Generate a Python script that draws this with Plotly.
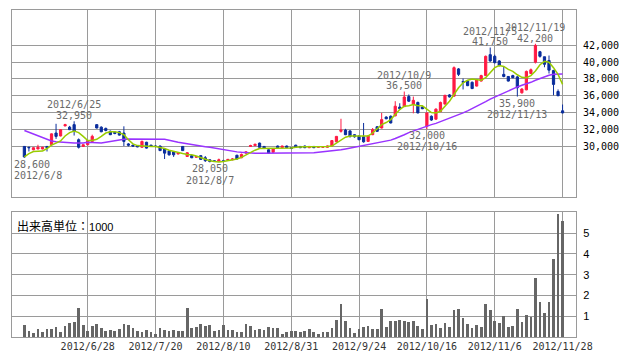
import pandas as pd
import plotly.graph_objects as go

# ---------------- data ----------------
holidays = ["2012-07-16", "2012-09-17", "2012-10-08", "2012-11-23"]
trading_days = [d for d in pd.bdate_range("2012-06-08", "2012-11-28")
                if d.strftime("%Y-%m-%d") not in holidays]
dates = [f"{d.year}/{d.month}/{d.day}" for d in trading_days]

open_ = [
    29950, 29850, 29550, 29650, 29650, 29950, 30150, 31550, 31200, 32400,
    32250, 32550, 30750, 29950, 30150, 30550, 32550, 32250, 32100, 31750,
    31650, 31700, 31550, 30250, 30100, 30050, 29850, 30450, 30100, 30000,
    30000, 29650, 29400, 29300, 29050, 29950, 28750, 28850, 28650, 28850,
    28600, 28350, 28250, 28200, 28250, 28300, 28350, 28900, 28600, 29150,
    29950, 30050, 30350, 29950, 29550, 29250, 30000, 29800, 30000, 29800,
    30100, 29950, 30000, 29800, 29950, 29850, 29850, 29850, 30000, 30500,
    31750, 31900, 31800, 31350, 31200, 31100, 30550, 31350, 32300, 32150,
    33450, 33550, 33600, 34650, 34700, 35900, 34950, 35200, 34650, 32350,
    33550, 33200, 34100, 35000, 36100, 35950, 39200, 37700, 37750, 37600,
    37150, 37750, 38400, 40900, 40700, 40150, 38550, 38300, 38400, 38250,
    36350, 36700, 38650, 40000, 41250, 40650, 40200, 39000, 36500, 34200]

high = [
    30000, 29900, 29850, 30150, 29900, 30000, 31500, 32650, 32000, 32650,
    32400, 32950, 30900, 30200, 30700, 31350, 32600, 32350, 32200, 31850,
    31750, 31800, 32350, 30350, 30150, 30100, 30650, 30500, 30150, 30100,
    30050, 29700, 29450, 29350, 29250, 30000, 29250, 28900, 28800, 28900,
    28800, 28400, 28300, 28500, 28350, 28450, 28550, 28950, 29100, 29400,
    30150, 30300, 30400, 30000, 29600, 29700, 30050, 30050, 30050, 29850,
    30150, 30000, 30050, 30000, 30000, 29950, 29950, 30050, 30700, 31200,
    33250, 32050, 31900, 31400, 31300, 32750, 31250, 32150, 32350, 33950,
    33550, 33650, 35350, 35100, 36500, 36150, 35900, 35300, 34750, 34000,
    33650, 34500, 35300, 36100, 36200, 39500, 39300, 38050, 37800, 37700,
    38000, 38500, 40800, 41750, 40900, 40250, 39500, 38350, 38500, 38350,
    36900, 39000, 39250, 42200, 41350, 40650, 40800, 39100, 36750, 34950]

low = [
    28600, 29350, 29500, 29600, 29600, 29350, 30100, 30850, 31150, 32350,
    31900, 31250, 29700, 29900, 30100, 30500, 32100, 31650, 31750, 31300,
    31400, 31250, 30000, 29950, 29900, 29850, 29800, 29700, 29900, 29850,
    29400, 28450, 28850, 28700, 29000, 29400, 28700, 28550, 28600, 28350,
    28100, 28050, 28100, 28150, 28100, 28250, 28300, 28400, 28550, 29100,
    29900, 30000, 29800, 29650, 29100, 29200, 29750, 29750, 29750, 29650,
    29800, 29750, 29750, 29750, 29750, 29800, 29800, 29800, 29950, 30450,
    31600, 31300, 31000, 31000, 30700, 30400, 30500, 31300, 31700, 32100,
    33200, 32700, 33550, 34350, 34650, 35250, 33900, 33900, 34400, 32000,
    33000, 33150, 34050, 34950, 35800, 35900, 38350, 36750, 37150, 36800,
    37100, 37700, 38350, 40050, 39850, 39500, 38200, 37700, 38100, 35900,
    36250, 36650, 38600, 39850, 40550, 39400, 38650, 36050, 35950, 33900]

close = [
    28700, 29800, 29800, 29850, 29850, 29800, 31450, 31150, 31950, 32550,
    31950, 31750, 29850, 30150, 30650, 31150, 32150, 31700, 31850, 31350,
    31500, 31300, 30550, 30100, 30000, 29900, 30550, 29750, 30000, 29950,
    29450, 29150, 28950, 28950, 29200, 29450, 29200, 28600, 28750, 28400,
    28250, 28150, 28150, 28350, 28150, 28400, 28450, 28450, 29000, 29300,
    30050, 30200, 29850, 29700, 29150, 29650, 29800, 30000, 29800, 29700,
    29850, 29800, 29800, 29950, 29800, 29900, 29900, 30000, 30650, 31150,
    31900, 31350, 31150, 31100, 30750, 30500, 31200, 31950, 31750, 33150,
    33250, 32750, 34750, 34450, 35850, 35350, 35450, 33950, 34450, 33950,
    33100, 34400, 35200, 36050, 35850, 39350, 38550, 37600, 37200, 36850,
    37900, 38400, 40700, 40150, 39950, 39600, 38300, 37750, 38150, 36950,
    36800, 38900, 39100, 42000, 40700, 39750, 39050, 37350, 36000, 33950]

ma_short = [
    28700, 29100, 29350, 29400, 29400, 29700, 30100, 30350, 30600, 31200,
    31600, 31800, 31600, 31150, 30650, 30650, 30800, 31150, 31550, 31700,
    31700, 31600, 31350, 30750, 30250, 30050, 30000, 30000, 29950, 29950,
    29850, 29700, 29500, 29350, 29200, 29100, 29000, 28950, 28800, 28600,
    28400, 28250, 28150, 28100, 28150, 28250, 28350, 28450, 28650, 28950,
    29200, 29500, 29700, 29700, 29700, 29700, 29700, 29700, 29700, 29750,
    29850, 29900, 29900, 29900, 29900, 29900, 29950, 29950, 30000, 30350,
    30750, 31050, 31200, 31200, 31150, 31150, 31200, 31550, 32000, 32550,
    32800, 33150, 33750, 34350, 34750, 34800, 34950, 34800, 34800, 34350,
    34000, 33950, 34150, 34750, 35350, 36150, 36950, 37550, 37850, 38000,
    37950, 37850, 38150, 38750, 39350, 39600, 39500, 39150, 38900, 38500,
    38200, 38150, 38400, 38950, 39700, 40100, 40000, 39350, 38550, 37350]

ma_long = [
    31850, 31650, 31450, 31250, 31050, 30800, 30600, 30500, 30450, 30400,
    30350, 30350, 30350, 30350, 30450, 30450, 30400, 30350, 30450, 30550,
    30650, 30750, 30800, 30850, 30850, 30850, 30850, 30850, 30850, 30850,
    30850, 30800, 30700, 30550, 30450, 30350, 30250, 30150, 30050, 29950,
    29900, 29850, 29750, 29700, 29600, 29500, 29400, 29300, 29250, 29200,
    29150, 29150, 29150, 29150, 29150, 29150, 29150, 29150, 29150, 29200,
    29200, 29200, 29200, 29200, 29200, 29250, 29300, 29350, 29400, 29450,
    29550, 29650, 29750, 29850, 29950, 30050, 30150, 30250, 30350, 30500,
    30600, 30700, 30900, 31100, 31350, 31600, 31800, 32000, 32150, 32350,
    32550, 32700, 32900, 33100, 33300, 33500, 33700, 33950, 34200, 34450,
    34750, 35000, 35300, 35600, 35850, 36100, 36350, 36600, 36850, 37050,
    37250, 37400, 37600, 37850, 38050, 38250, 38450, 38550, 38600, 38600]

volume = [
    0.58, 0.29, 0.18, 0.37, 0.21, 0.38, 0.38, 0.48, 0.24, 0.53,
    0.67, 0.72, 1.39, 0.58, 0.29, 0.53, 0.62, 0.43, 0.29, 0.34,
    0.29, 0.38, 0.62, 0.58, 0.43, 0.29, 0.24, 0.34, 0.24, 0.14,
    0.43, 0.34, 0.29, 0.34, 0.29, 0.29, 1.39, 0.43, 0.48, 0.62,
    0.53, 0.58, 0.29, 0.34, 0.58, 0.34, 0.34, 0.24, 0.24, 0.62,
    0.53, 0.34, 0.38, 0.34, 0.48, 0.43, 0.43, 0.14, 0.24, 0.29,
    0.29, 0.24, 0.29, 0.38, 0.24, 0.14, 0.24, 0.24, 0.43, 0.82,
    1.58, 0.77, 0.43, 0.19, 0.38, 0.48, 0.53, 0.38, 0.38, 1.34,
    0.48, 0.77, 0.77, 0.82, 0.77, 0.72, 0.77, 0.53, 0.38, 1.82,
    0.58, 0.62, 0.43, 0.67, 0.48, 1.30, 1.34, 0.91, 0.62, 0.43,
    0.58, 0.48, 1.58, 1.30, 0.77, 0.67, 1.01, 0.48, 0.53, 1.34,
    0.72, 1.06, 0.96, 2.83, 1.68, 1.15, 1.68, 3.74, 5.90, 5.57]

tick_dates = ["2012/6/28", "2012/7/20", "2012/8/10", "2012/8/31",
              "2012/9/24", "2012/10/16", "2012/11/6", "2012/11/28"]
price_ticks = [30000, 32000, 34000, 36000, 38000, 40000, 42000]
volume_ticks = [1, 2, 3, 4, 5]

# (date, price, kind)
marks = [("2012/6/8", 28600, "low"), ("2012/6/25", 32950, "high"),
         ("2012/8/7", 28050, "low"), ("2012/10/9", 36500, "high"),
         ("2012/10/16", 32000, "low"), ("2012/11/5", 41750, "high"),
         ("2012/11/13", 35900, "low"), ("2012/11/19", 42200, "high")]

# ---------------- styling ----------------
RED = "#ff1a44"
BLUE = "#0a2d9c"
GREEN = "#99cc00"
PURPLE = "#9933ff"
GRID = "#9a9a9a"
MONO = "DejaVu Sans Mono"

idx = list(range(len(dates)))
tick_idx = [dates.index(d) for d in tick_dates]
xr = [-2.74, 121.97]

fig = go.Figure()
fig.add_trace(go.Candlestick(
    x=idx, open=open_, high=high, low=low, close=close,
    increasing=dict(line=dict(color=RED, width=1), fillcolor=RED),
    decreasing=dict(line=dict(color=BLUE, width=1), fillcolor=BLUE),
    whiskerwidth=0, xaxis="x", yaxis="y", hoverinfo="skip"))
fig.add_trace(go.Scatter(x=idx, y=ma_long, mode="lines",
                         line=dict(color=PURPLE, width=1.5),
                         xaxis="x", yaxis="y", hoverinfo="skip"))
fig.add_trace(go.Scatter(x=idx, y=ma_short, mode="lines",
                         line=dict(color=GREEN, width=1.5),
                         xaxis="x", yaxis="y", hoverinfo="skip"))
fig.add_trace(go.Bar(x=idx, y=volume, marker=dict(color="#666666", line=dict(width=0)),
                     width=0.6, xaxis="x2", yaxis="y2", hoverinfo="skip"))

annotations = []
for d, p, kind in marks:
    i = dates.index(d)
    sgn = 1 if kind == "high" else -1
    if i == 0:
        ax, anchor = xr[0], "left"
    else:
        ax, anchor = i, "center"
    annotations.append(dict(x=ax, y=p, xref="x", yref="y", text=f"{p:,}",
                            showarrow=False, xanchor=anchor, yanchor="middle",
                            yshift=sgn * (5.7 if kind == "high" else 6.6),
                            font=dict(family=MONO, size=10, color="#6a6a6a")))
    annotations.append(dict(x=ax, y=p, xref="x", yref="y", text=d,
                            showarrow=False, xanchor=anchor, yanchor="middle",
                            yshift=sgn * (16.4 if kind == "high" else 17.7),
                            font=dict(family=MONO, size=10, color="#6a6a6a")))
annotations.append(dict(
    x=0.005, y=0.372, xref="paper", yref="paper", xanchor="left", yanchor="top",
    showarrow=False,
    text="出来高単位：<span style='font-family:Liberation Sans;font-size:11px'>1000</span>",
    font=dict(family="Noto Sans CJK JP", size=12, color="#000000")))

axis_common = dict(showgrid=True, gridcolor=GRID, gridwidth=1, showline=True,
                   mirror=True, linecolor=GRID, linewidth=1, zeroline=False,
                   ticks="")

# the page body has an 8px margin, so the figure is sized/offset to compensate
fig.update_layout(
    width=630, height=354,
    margin=dict(l=4, r=62, t=2, b=25),
    paper_bgcolor="white", plot_bgcolor="white",
    showlegend=False,
    bargap=0,
    annotations=annotations,
    xaxis=dict(domain=[0, 1], range=xr, anchor="y", tickvals=tick_idx,
               showticklabels=False, rangeslider=dict(visible=False), **axis_common),
    yaxis=dict(domain=[0.429, 1], range=[23950, 46230], anchor="x", side="right",
               tickvals=price_ticks, ticktext=[f"{v:,}" for v in price_ticks],
               tickfont=dict(family=MONO, size=10, color="#000000"),
               ticklabelstandoff=4, **axis_common),
    xaxis2=dict(domain=[0, 1], range=xr, anchor="y2", tickvals=tick_idx,
                ticktext=tick_dates,
                tickfont=dict(family=MONO, size=10, color="#333333"),
                **axis_common),
    yaxis2=dict(domain=[0, 0.381], range=[0, 6], anchor="x2", side="right",
                tickvals=volume_ticks, ticktext=[str(v) for v in volume_ticks],
                tickfont=dict(family="Liberation Sans", size=11, color="#000000"),
                ticklabelstandoff=4, **axis_common),
)

fig.write_html("out.html")
